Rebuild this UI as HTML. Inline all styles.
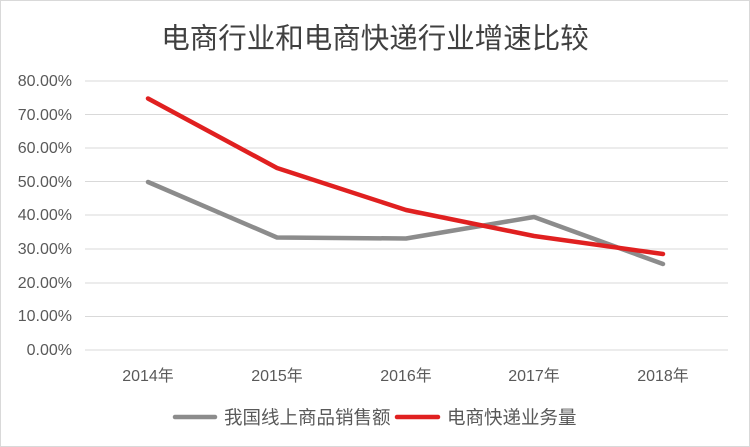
<!DOCTYPE html><html><head><meta charset="utf-8"><style>body{margin:0;background:#fff}svg{display:block}</style></head><body>
<svg width="750" height="447" xmlns="http://www.w3.org/2000/svg" font-family="Liberation Sans, Noto Sans CJK SC, sans-serif">
<rect x="0.5" y="0.5" width="749" height="446" fill="#fff" stroke="#d9d9d9"/>
<text x="375" y="48" text-anchor="middle" font-size="28.5" fill="#404040">电商行业和电商快递行业增速比较</text>
<g stroke="#d9d9d9" stroke-width="1">
<line x1="85" x2="728" y1="81" y2="81"/><line x1="85" x2="728" y1="114.5" y2="114.5"/><line x1="85" x2="728" y1="148" y2="148"/><line x1="85" x2="728" y1="181.5" y2="181.5"/><line x1="85" x2="728" y1="215" y2="215"/><line x1="85" x2="728" y1="249" y2="249"/><line x1="85" x2="728" y1="283" y2="283"/><line x1="85" x2="728" y1="316.5" y2="316.5"/><line x1="85" x2="728" y1="350" y2="350"/>
</g>
<g font-size="16" fill="#595959" text-anchor="end">
<text x="72" y="86">80.00%</text><text x="72" y="120">70.00%</text><text x="72" y="153">60.00%</text><text x="72" y="187">50.00%</text><text x="72" y="220">40.00%</text><text x="72" y="254">30.00%</text><text x="72" y="288">20.00%</text><text x="72" y="321">10.00%</text><text x="72" y="355">0.00%</text>
</g>
<g font-size="16" fill="#595959" text-anchor="middle">
<text x="148" y="381">2014年</text><text x="277" y="381">2015年</text><text x="406" y="381">2016年</text><text x="534" y="381">2017年</text><text x="663" y="381">2018年</text>
</g>
<polyline points="148,182 277,237.5 406,238.5 534,217 663,264" fill="none" stroke="#8c8c8c" stroke-width="4.5" stroke-linejoin="round" stroke-linecap="round"/>
<polyline points="148,98.5 277,168 406,210 534,236 663,254" fill="none" stroke="#e02020" stroke-width="4.5" stroke-linejoin="round" stroke-linecap="round"/>
<line x1="175" x2="215" y1="417" y2="417" stroke="#8c8c8c" stroke-width="4.5" stroke-linecap="round"/>
<text x="224" y="424" font-size="18.5" fill="#595959">我国线上商品销售额</text>
<line x1="397" x2="438" y1="417" y2="417" stroke="#e02020" stroke-width="4.5" stroke-linecap="round"/>
<text x="447" y="424" font-size="18.5" fill="#595959">电商快递业务量</text>
</svg>
</body></html>
